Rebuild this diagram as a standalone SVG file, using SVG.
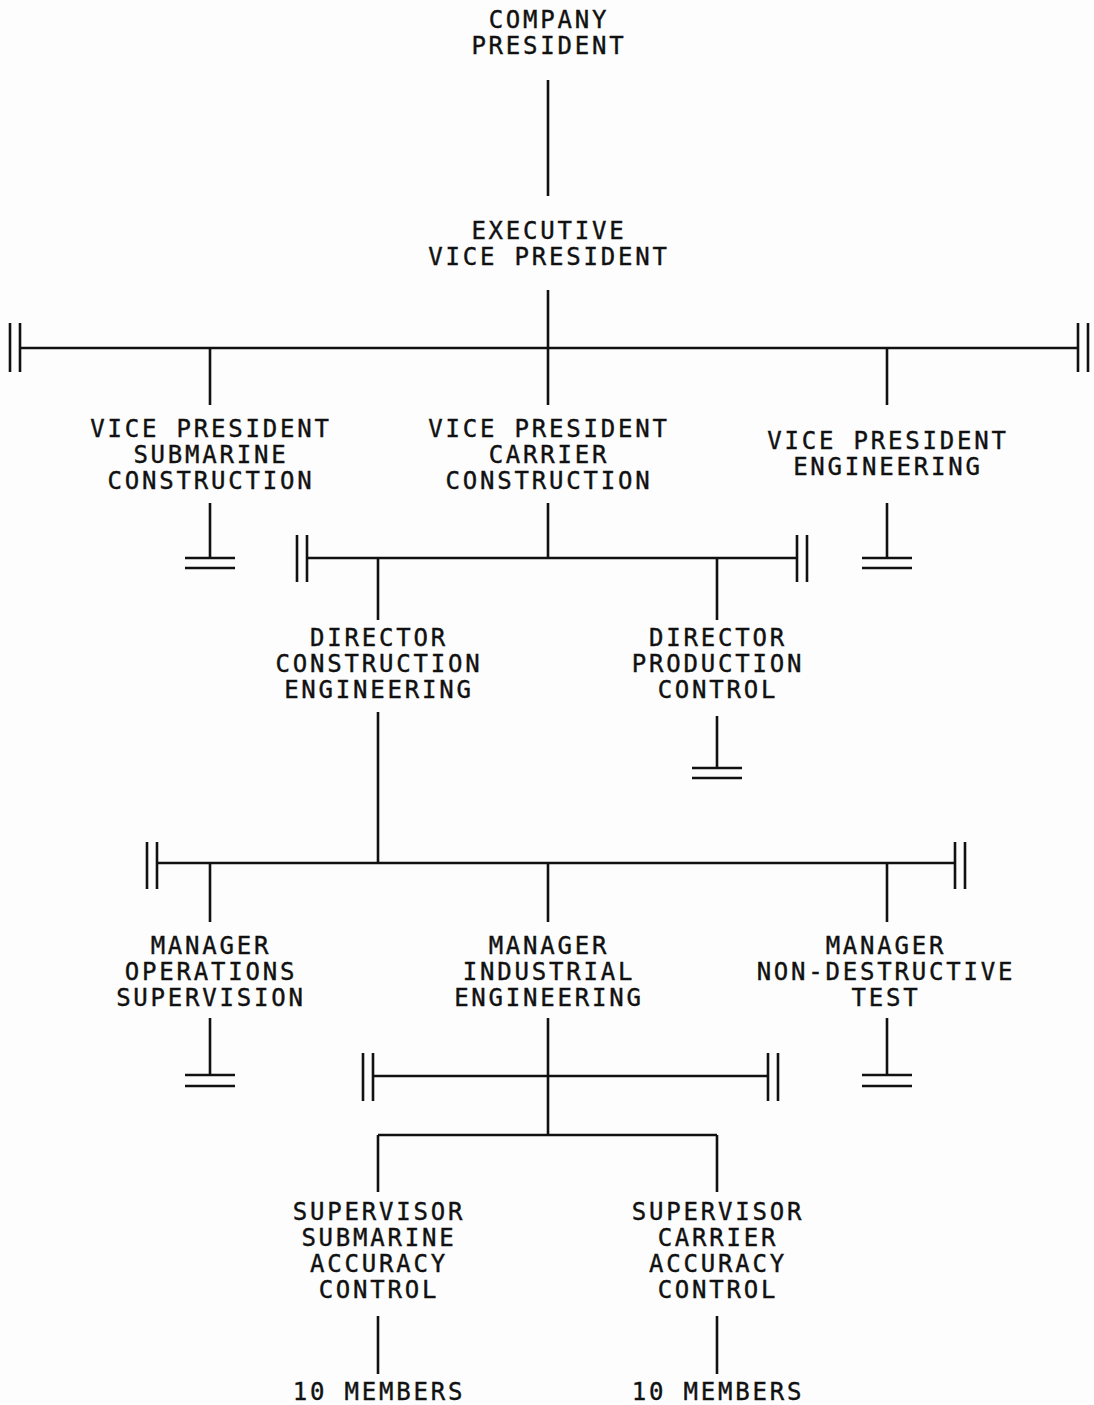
<svg xmlns="http://www.w3.org/2000/svg" width="1094" height="1405" viewBox="0 0 1094 1405">
  <style>
    .bg { fill: #fdfdfd; }
    .ln { fill: none; stroke: #111; stroke-width: 2.6; stroke-linecap: butt; }
    .lbl { font-family: "DejaVu Sans Mono", "Liberation Mono", monospace; font-size: 24px; letter-spacing: 2.8px; fill: #111; stroke: #111; stroke-width: 0.4; text-anchor: middle; }
  </style>
  <rect class="bg" x="0" y="0" width="1094" height="1405"/>

  <!-- reporting lines, break marks and end marks -->
  <g id="connectors" class="ln">
    <path d="M548 80 V196"/>
    <path d="M548 290 V348"/>
    <path d="M20 348 H1078"/>
    <path d="M10 323 V372 M20 323 V372 M1078 323 V372 M1088 323 V372"/>
    <path d="M210 348 V405 M548 348 V405 M887 348 V405"/>

    <path d="M210 503 V558 M185 558 H235 M185 568 H235"/>
    <path d="M887 503 V558 M862 558 H912 M862 568 H912"/>

    <path d="M548 503 V558 M307 558 H797"/>
    <path d="M297 535 V582 M307 535 V582 M797 535 V582 M807 535 V582"/>
    <path d="M378 558 V620 M717 558 V620"/>

    <path d="M717 716 V768 M692 768 H742 M692 778 H742"/>
    <path d="M378 712 V863"/>
    <path d="M157 863 H955"/>
    <path d="M147 842 V889 M157 842 V889 M955 842 V889 M965 842 V889"/>
    <path d="M210 863 V922 M548 863 V922 M887 863 V922"/>

    <path d="M210 1018 V1075 M185 1075 H235 M185 1086 H235"/>
    <path d="M887 1018 V1075 M862 1075 H912 M862 1086 H912"/>

    <path d="M548 1018 V1135 M373 1076 H768"/>
    <path d="M363 1053 V1101 M373 1053 V1101 M768 1053 V1101 M778 1053 V1101"/>
    <path d="M378 1135 H717 M378 1135 V1192 M717 1135 V1192"/>

    <path d="M378 1316 V1374 M717 1316 V1374"/>
  </g>

  <g id="company-president" class="lbl">
    <text x="549" y="28">COMPANY</text>
    <text x="549" y="54">PRESIDENT</text>
  </g>
  <g id="executive-vp" class="lbl">
    <text x="549" y="239">EXECUTIVE</text>
    <text x="549" y="265">VICE PRESIDENT</text>
  </g>
  <g id="vp-submarine" class="lbl">
    <text x="211" y="437">VICE PRESIDENT</text>
    <text x="211" y="463">SUBMARINE</text>
    <text x="211" y="489">CONSTRUCTION</text>
  </g>
  <g id="vp-carrier" class="lbl">
    <text x="549" y="437">VICE PRESIDENT</text>
    <text x="549" y="463">CARRIER</text>
    <text x="549" y="489">CONSTRUCTION</text>
  </g>
  <g id="vp-engineering" class="lbl">
    <text x="888" y="449">VICE PRESIDENT</text>
    <text x="888" y="475">ENGINEERING</text>
  </g>
  <g id="director-construction-eng" class="lbl">
    <text x="379" y="646">DIRECTOR</text>
    <text x="379" y="672">CONSTRUCTION</text>
    <text x="379" y="698">ENGINEERING</text>
  </g>
  <g id="director-production-control" class="lbl">
    <text x="718" y="646">DIRECTOR</text>
    <text x="718" y="672">PRODUCTION</text>
    <text x="718" y="698">CONTROL</text>
  </g>
  <g id="manager-operations" class="lbl">
    <text x="211" y="954">MANAGER</text>
    <text x="211" y="980">OPERATIONS</text>
    <text x="211" y="1006">SUPERVISION</text>
  </g>
  <g id="manager-industrial" class="lbl">
    <text x="549" y="954">MANAGER</text>
    <text x="549" y="980">INDUSTRIAL</text>
    <text x="549" y="1006">ENGINEERING</text>
  </g>
  <g id="manager-ndt" class="lbl">
    <text x="886" y="954">MANAGER</text>
    <text x="886" y="980">NON-DESTRUCTIVE</text>
    <text x="886" y="1006">TEST</text>
  </g>
  <g id="supervisor-submarine" class="lbl">
    <text x="379" y="1220">SUPERVISOR</text>
    <text x="379" y="1246">SUBMARINE</text>
    <text x="379" y="1272">ACCURACY</text>
    <text x="379" y="1298">CONTROL</text>
  </g>
  <g id="supervisor-carrier" class="lbl">
    <text x="718" y="1220">SUPERVISOR</text>
    <text x="718" y="1246">CARRIER</text>
    <text x="718" y="1272">ACCURACY</text>
    <text x="718" y="1298">CONTROL</text>
  </g>
  <g id="members-submarine" class="lbl">
    <text x="379" y="1400">10 MEMBERS</text>
  </g>
  <g id="members-carrier" class="lbl">
    <text x="718" y="1400">10 MEMBERS</text>
  </g>
</svg>
